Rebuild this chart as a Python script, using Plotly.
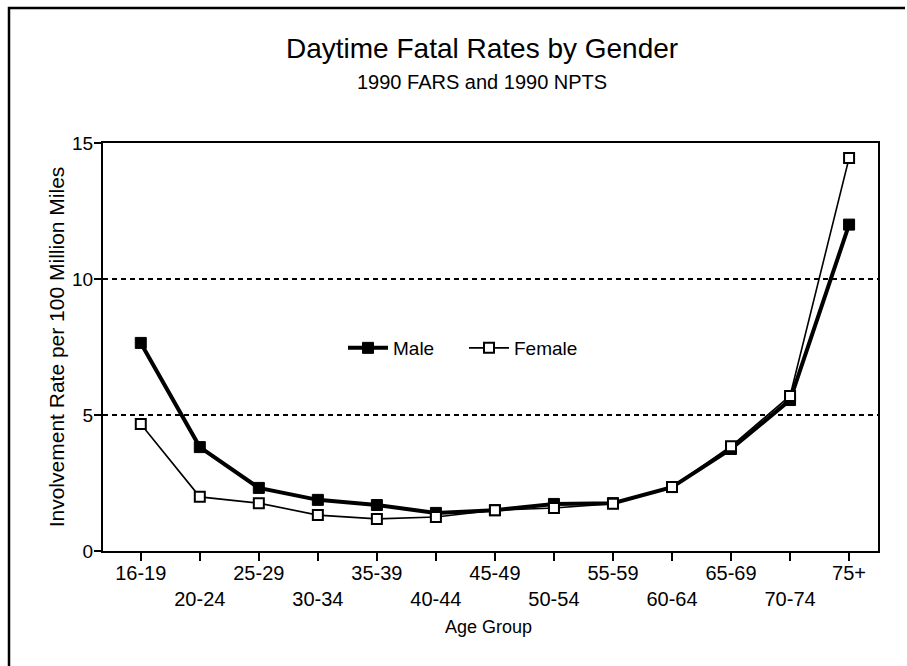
import plotly.graph_objects as go

age_groups = ["16-19", "20-24", "25-29", "30-34", "35-39", "40-44", "45-49",
              "50-54", "55-59", "60-64", "65-69", "70-74", "75+"]
male = [7.65, 3.82, 2.32, 1.88, 1.69, 1.40, 1.50, 1.73, 1.76, 2.35, 3.75, 5.55, 12.0]
female = [4.67, 1.99, 1.76, 1.32, 1.18, 1.25, 1.50, 1.58, 1.74, 2.35, 3.85, 5.70, 14.45]
y_ticks = [0, 5, 10, 15]

tick_text = [g if i % 2 == 0 else "<br>" + g for i, g in enumerate(age_groups)]
FONT = "Liberation Sans, Arial, sans-serif"

fig = go.Figure()
fig.add_trace(go.Scatter(
    x=age_groups, y=male, name="Male", mode="lines+markers",
    line=dict(color="black", width=4),
    marker=dict(symbol="square", size=11, color="black", line=dict(color="black", width=1)),
))
fig.add_trace(go.Scatter(
    x=age_groups, y=female, name="Female", mode="lines+markers",
    line=dict(color="black", width=1.6),
    marker=dict(symbol="square", size=10, color="white", line=dict(color="black", width=2)),
))

for v in [5, 10]:
    fig.add_shape(type="line", xref="paper", x0=0, x1=1, yref="y", y0=v, y1=v,
                  line=dict(color="black", width=2, dash="5px,4px"), layer="below")

L, R, T, B = 103, 29, 143, 115
W, H = 907, 666
pw, ph = W - L - R, H - T - B
def px(x):
    return (x - L) / pw
def py(y):
    return (H - B - y) / ph
fig.add_shape(type="path", xref="paper", yref="paper",
              path=f"M {px(9)} {py(666)} L {px(9)} {py(8)} L {px(905)} {py(8)}",
              line=dict(color="black", width=2.5))

fig.add_annotation(text="Daytime Fatal Rates by Gender", xref="paper", yref="paper",
                   x=px(482), y=py(49), showarrow=False,
                   font=dict(family=FONT, size=28, color="black"), xanchor="center", yanchor="middle")
fig.add_annotation(text="1990 FARS and 1990 NPTS", xref="paper", yref="paper",
                   x=px(482), y=py(82), showarrow=False,
                   font=dict(family=FONT, size=20, color="black"), xanchor="center", yanchor="middle")
fig.add_annotation(text="Age Group", xref="paper", yref="paper",
                   x=px(488), y=py(627), showarrow=False,
                   font=dict(family=FONT, size=18, color="black"), xanchor="center", yanchor="middle")

fig.update_layout(
    width=W, height=H,
    margin=dict(l=L, r=R, t=T, b=B),
    paper_bgcolor="white", plot_bgcolor="white",
    font=dict(family=FONT, size=20, color="black"),
    showlegend=True,
    legend=dict(orientation="h", x=px(343), y=py(348), xanchor="left", yanchor="middle",
                font=dict(family=FONT, size=19), bgcolor="rgba(0,0,0,0)",
                itemwidth=40, entrywidth=66),
    xaxis=dict(
        type="category", range=[-0.64, 12.49],
        tickvals=age_groups, ticktext=tick_text,
        ticks="outside", ticklen=8, tickwidth=2, tickcolor="black",
        ticklabelstandoff=-5,
        showline=True, linecolor="black", linewidth=2, mirror=True,
        showgrid=False, zeroline=False,
        tickfont=dict(family=FONT, size=20),
    ),
    yaxis=dict(
        range=[0, 15], tickvals=y_ticks,
        ticks="outside", ticklen=7, tickwidth=2, tickcolor="black",
        ticklabelstandoff=-3,
        showline=True, linecolor="black", linewidth=2, mirror=True,
        showgrid=False, zeroline=False,
        tickfont=dict(family=FONT, size=19),
        title=dict(text="Involvement Rate per 100 Million Miles",
                   font=dict(family=FONT, size=21), standoff=2),
    ),
)

fig.write_html("out.html", post_script="document.body.style.margin='0';",
               config={"displayModeBar": False})
